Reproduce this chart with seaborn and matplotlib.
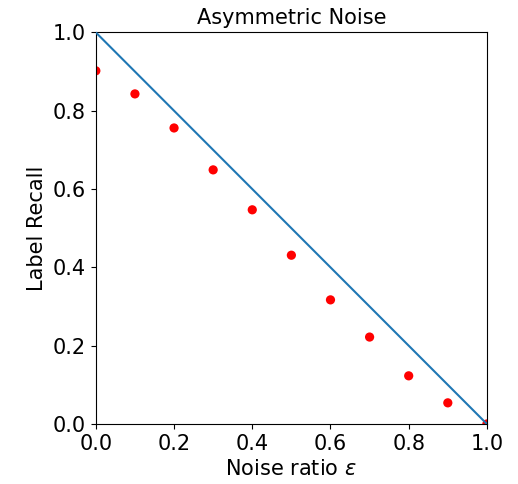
import matplotlib
matplotlib.use("Agg")
import matplotlib.pyplot as plt
import seaborn as sns
import numpy as np

# Values
noise_ratio = [0.0, 0.1, 0.2, 0.3, 0.4, 0.5, 0.6, 0.7, 0.8, 0.9, 1.0]
label_recall = [0.902, 0.843, 0.756, 0.649, 0.547, 0.431, 0.317, 0.222, 0.123, 0.054, 0.0]
ideal_x = [0.0, 1.0]
ideal_y = [1.0, 0.0]

sns.set_style("ticks", {'axes.edgecolor': 'black', 'xtick.color': 'black',
                        'ytick.color': 'black', 'text.color': 'black',
                        'axes.labelcolor': 'black'})
plt.rcParams['font.family'] = ['DejaVu Sans']

fig = plt.figure(figsize=(5.18, 4.84), dpi=100)
ax = fig.add_axes([0.185, 0.124, 0.755, 0.809])

sns.scatterplot(x=noise_ratio, y=label_recall, color='red', s=44, edgecolor='none', ax=ax, zorder=2)
sns.lineplot(x=ideal_x, y=ideal_y, color='#1f77b4', linewidth=1.5, ax=ax, zorder=3)

ax.set_xlim(0, 1)
ax.set_ylim(0, 1)
ax.set_xticks(np.arange(0, 1.01, 0.2))
ax.set_yticks(np.arange(0, 1.01, 0.2))
ax.tick_params(labelsize=15, width=0.8)
for s in ax.spines.values():
    s.set_linewidth(0.8)
ax.set_title('Asymmetric Noise', fontsize=15)
ax.set_xlabel(r'Noise ratio $\epsilon$', fontsize=15)
ax.set_ylabel('Label Recall', fontsize=15)

fig.savefig('out.png', dpi=100)
